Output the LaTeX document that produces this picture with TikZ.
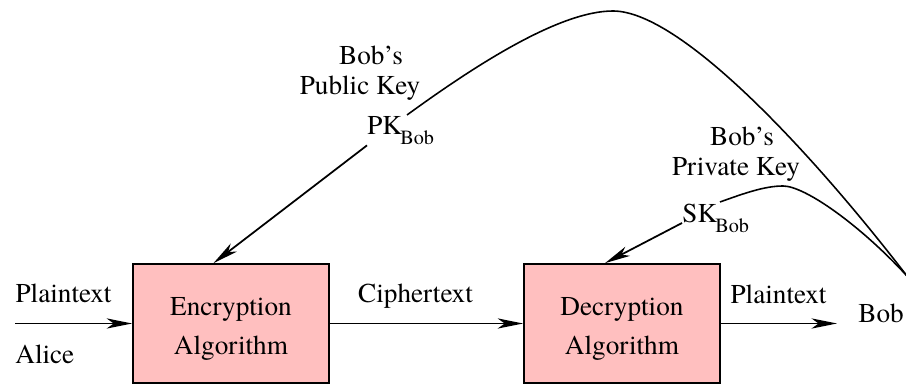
\documentclass[tikz,border=0pt]{standalone}
\usepackage{fontspec}
\setmainfont{texgyretermes}[Extension=.otf, UprightFont=*-regular,
  BoldFont=*-bold, ItalicFont=*-italic, BoldItalicFont=*-bolditalic]
\usetikzlibrary{arrows.meta,calc}
\definecolor{boxpink}{RGB}{255,191,191}
% lowered "Bob" subscript used in the key names
\newcommand{\subbob}{\kern-1pt\raisebox{-5.6pt}{\fontsize{11.5pt}{12pt}\selectfont Bob}}

\begin{document}
\begin{tikzpicture}[x=0.02cm,y=-0.02cm,
  every node/.style={font=\rmfamily\fontsize{15.5pt}{22.2pt}\selectfont, inner sep=0pt},
  algbox/.style={draw=black, line width=1pt, fill=boxpink,
    minimum width=3.92cm, minimum height=2.38cm, align=center},
  flow/.style={line width=1pt, -{Stealth[length=14.5pt,width=5.8pt,inset=4pt]}},
  keyline/.style={line width=0.9pt},
  lbl/.style={anchor=base}
]
\useasboundingbox (0,0) rectangle (906,384);

% the two algorithm boxes
\node[algbox] (enc) at (231,323.5) {\rule{0pt}{16.5pt}Encryption\\Algorithm};
\node[algbox] (dec) at (622,323.5) {\rule{0pt}{16.5pt}Decryption\\Algorithm};

% message flow
\coordinate (src) at (15,323.5);
\coordinate (dst) at (837,323.5);
\node[lbl] (ptin) at (63.5,303) {Plaintext};
\node[anchor=base west] (alice) at (15,364) {Alice};
\node[lbl] (ct) at (415.5,303) {Ciphertext};
\node[lbl] (ptout) at (778.5,304) {Plaintext};
\node[anchor=base west] (bob) at (858,323) {Bob};

\draw[flow] (src) -- (enc);
\draw[flow] (enc) -- (dec);
\draw[flow] (dec) -- (dst);

% keys
\node[lbl] (pubA) at (371,65) {Bob’s};
\node[lbl] (pubB) at (360,95) {Public Key};
\node[anchor=base west] (pk) at (367,135) {PK\subbob};
\node[lbl] (privA) at (742,146) {Bob’s};
\node[lbl] (privB) at (736,176) {Private Key};
\node[anchor=base west] (sk) at (682,223) {SK\subbob};

\coordinate (bobkey) at (907,276);
\coordinate (pkout) at (407,115);
\coordinate (skout) at (720,202);

\draw[keyline] (pkout) .. controls (477,64) and (560,11) .. (613,11)
  .. controls (680,11) and (810,150) .. (bobkey);
\draw[keyline] (skout) .. controls (745,193) and (765,186) .. (783,186)
  .. controls (805,186) and (860,225) .. (bobkey);

\draw[flow] (pk.south west) -- ([xshift=-0.35cm]enc.north);
\draw[flow] (sk.base west) -- ([xshift=-0.34cm]dec.north);
\end{tikzpicture}
\end{document}
